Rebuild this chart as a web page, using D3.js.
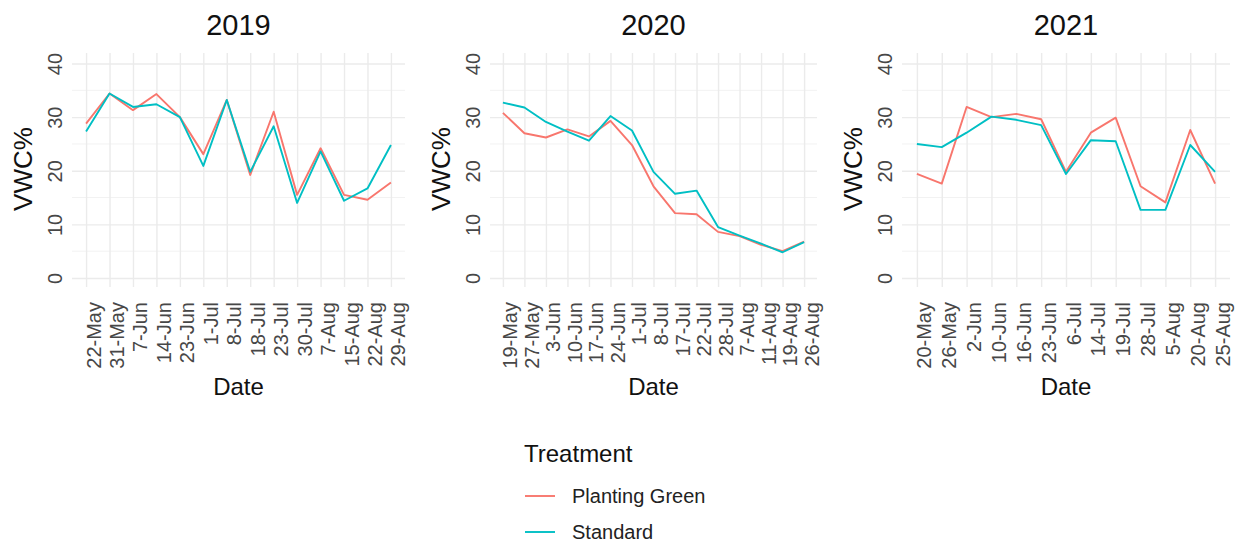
<!DOCTYPE html>
<html>
<head>
<meta charset="utf-8">
<script src="https://cdn.jsdelivr.net/npm/d3@7"></script>
<style>
  html, body { margin: 0; padding: 0; background: #fff; }
  svg { display: block; font-family: "Liberation Sans", Arial, sans-serif; }
</style>
</head>
<body>
<svg id="chart" width="1244" height="543"></svg>
<script>
// ---------- DATA ----------
const years = ["2019", "2020", "2021"];
const treatments = ["Planting Green", "Standard"];
const colors = ["#F8766D", "#00BFC4"];
const yTicks = [0, 10, 20, 30, 40];
const yMinor = [5, 15, 25, 35];

const dates2019 = ["22-May","31-May","7-Jun","14-Jun","23-Jun","1-Jul","8-Jul","18-Jul","23-Jul","30-Jul","7-Aug","15-Aug","22-Aug","29-Aug"];
const pg2019  = [28.8, 34.4, 31.3, 34.3, 30.0, 23.1, 33.2, 19.2, 31.0, 15.5, 24.2, 15.5, 14.6, 17.8];
const std2019 = [27.3, 34.4, 31.9, 32.4, 30.0, 20.9, 33.2, 19.8, 28.3, 14.0, 23.6, 14.4, 16.7, 24.8];

const dates2020 = ["19-May","27-May","3-Jun","10-Jun","17-Jun","24-Jun","1-Jul","8-Jul","17-Jul","22-Jul","28-Jul","7-Aug","11-Aug","19-Aug","26-Aug"];
const pg2020  = [30.8, 27.0, 26.2, 27.7, 26.4, 29.3, 24.8, 17.1, 12.1, 11.9, 8.6, 7.8, 6.2, 5.0, 6.8];
const std2020 = [32.7, 31.8, 29.1, 27.3, 25.6, 30.2, 27.5, 19.8, 15.7, 16.3, 9.5, 7.9, 6.4, 4.8, 6.7];

const dates2021 = ["20-May","26-May","2-Jun","10-Jun","16-Jun","23-Jun","6-Jul","14-Jul","19-Jul","28-Jul","5-Aug","20-Aug","25-Aug"];
const pg2021  = [19.4, 17.6, 31.9, 30.0, 30.6, 29.6, 19.8, 27.1, 29.9, 17.1, 14.1, 27.6, 17.6];
const std2021 = [25.0, 24.4, 27.1, 30.1, 29.5, 28.5, 19.4, 25.7, 25.5, 12.7, 12.7, 24.8, 19.8];

const panelsData = [
  { title: years[0], dates: dates2019, series: [pg2019, std2019] },
  { title: years[1], dates: dates2020, series: [pg2020, std2020] },
  { title: years[2], dates: dates2021, series: [pg2021, std2021] }
];

// ---------- LAYOUT ----------
const panelX = [[72, 405], [490, 817], [902, 1230]];
const panelTop = 53, panelBottom = 287;
const y = d3.scaleLinear().domain([0, 40]).range([278, 63.5]);

const svg = d3.select("#chart");

panelsData.forEach((p, i) => {
  const [x0, x1] = panelX[i];
  const x = d3.scalePoint().domain(p.dates).range([x0, x1]).padding(0.6);
  const g = svg.append("g");

  // minor horizontal grid
  g.append("g").selectAll("line").data(yMinor).join("line")
    .attr("x1", x0).attr("x2", x1)
    .attr("y1", d => y(d)).attr("y2", d => y(d))
    .attr("stroke", "#F2F2F2").attr("stroke-width", 1);

  // major horizontal grid (via axis)
  const gy = g.append("g").attr("transform", `translate(${x0},0)`)
    .call(d3.axisLeft(y).tickValues(yTicks).tickSize(-(x1 - x0)).tickFormat(""));
  gy.select(".domain").remove();
  gy.selectAll(".tick line").attr("stroke", "#EBEBEB").attr("stroke-width", 1.4);

  // vertical grid (via axis)
  const gx = g.append("g").attr("transform", `translate(0,${panelBottom})`)
    .call(d3.axisBottom(x).tickSize(-(panelBottom - panelTop)).tickFormat(""));
  gx.select(".domain").remove();
  gx.selectAll(".tick line").attr("stroke", "#EBEBEB").attr("stroke-width", 1.4);

  // x tick labels
  const xl = g.append("g").attr("transform", `translate(0,302)`)
    .call(d3.axisBottom(x).tickSize(0).tickPadding(0));
  xl.select(".domain").remove();
  xl.selectAll(".tick text")
    .attr("transform", "translate(14,0) rotate(-90)")
    .attr("x", 0).attr("y", 0).attr("dy", 0)
    .attr("text-anchor", "end")
    .attr("fill", "#474747")
    .attr("font-size", 20)
    .attr("font-family", "Liberation Sans, Arial, sans-serif");

  // y tick labels
  const yl = g.append("g").attr("transform", `translate(${x0 - 10},0)`)
    .call(d3.axisLeft(y).tickValues(yTicks).tickSize(0).tickPadding(0));
  yl.select(".domain").remove();
  yl.selectAll(".tick text")
    .attr("transform", "rotate(-90)")
    .attr("x", 0).attr("y", 0).attr("dy", 0)
    .attr("text-anchor", "middle")
    .attr("fill", "#474747")
    .attr("font-size", 20)
    .attr("font-family", "Liberation Sans, Arial, sans-serif");

  // lines
  const line = d3.line().x((d, k) => x(p.dates[k])).y(d => y(d));
  p.series.forEach((s, j) => {
    g.append("path").datum(s)
      .attr("d", line)
      .attr("fill", "none")
      .attr("stroke", colors[j])
      .attr("stroke-width", 1.9)
      .attr("stroke-linejoin", "round");
  });

  const cx = (x0 + x1) / 2;
  // title
  g.append("text").attr("x", cx).attr("y", 35)
    .attr("text-anchor", "middle").attr("font-size", 29).attr("fill", "#111")
    .text(p.title);
  // x title
  g.append("text").attr("x", cx).attr("y", 395)
    .attr("text-anchor", "middle").attr("font-size", 24).attr("fill", "#111")
    .text("Date");
  // y title
  g.append("text")
    .attr("transform", `translate(${x0 - 40},${169}) rotate(-90)`)
    .attr("text-anchor", "middle").attr("font-size", 26).attr("fill", "#111")
    .text("VWC%");
});

// ---------- LEGEND ----------
const lg = svg.append("g");
lg.append("text").attr("x", 524).attr("y", 462)
  .attr("font-size", 24).attr("fill", "#111").text("Treatment");
treatments.forEach((t, j) => {
  const yy = 496 + j * 36;
  lg.append("line").attr("x1", 525).attr("x2", 555).attr("y1", yy).attr("y2", yy)
    .attr("stroke", colors[j]).attr("stroke-width", 1.9);
  lg.append("text").attr("x", 572).attr("y", yy + 7)
    .attr("font-size", 20).attr("fill", "#222").text(t);
});
</script>
</body>
</html>
